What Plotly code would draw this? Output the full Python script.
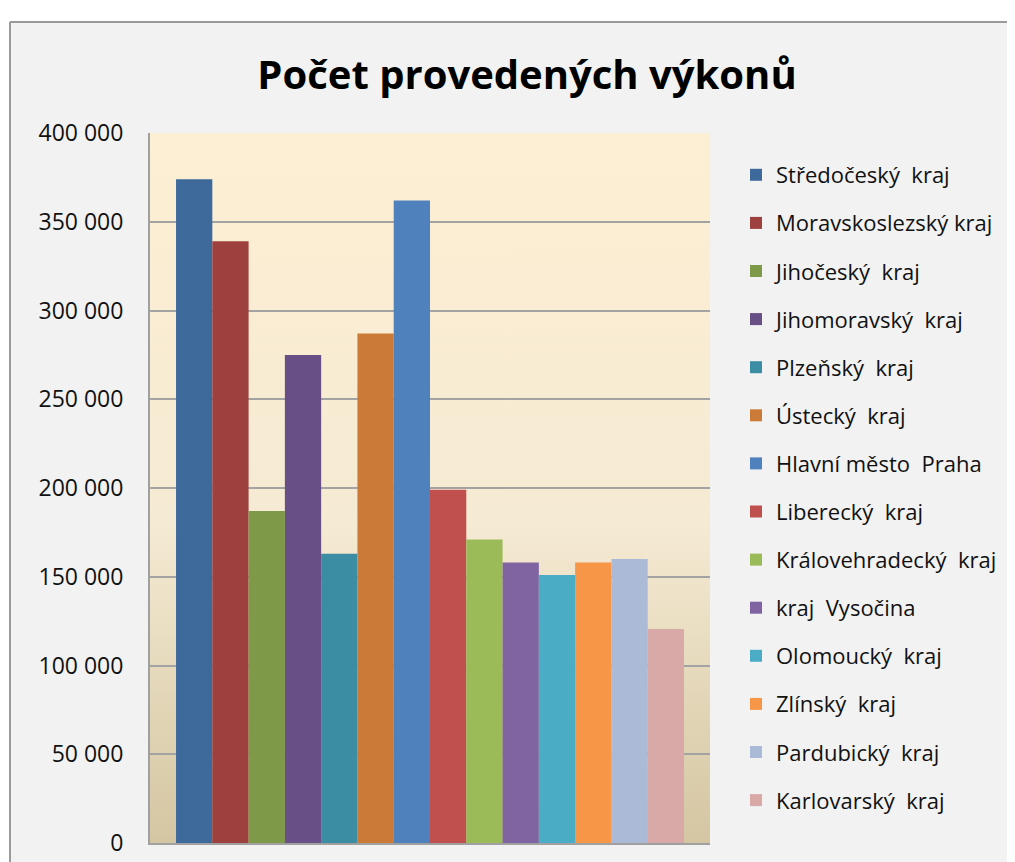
import base64
import plotly.graph_objects as go

# data
regions = ["Středočeský\u00a0 kraj", "Moravskoslezský kraj", "Jihočeský\u00a0 kraj",
           "Jihomoravský\u00a0 kraj", "Plzeňský\u00a0 kraj", "Ústecký\u00a0 kraj",
           "Hlavní město\u00a0 Praha", "Liberecký\u00a0 kraj", "Královehradecký\u00a0 kraj",
           "kraj\u00a0 Vysočina", "Olomoucký\u00a0 kraj", "Zlínský\u00a0 kraj",
           "Pardubický\u00a0 kraj", "Karlovarský\u00a0 kraj"]
counts = [374000, 339000, 187000, 275000, 163000, 287000, 362000,
          199000, 171000, 158000, 151000, 158000, 160000, 120500]
colors = ["#3E699B", "#9E403D", "#7E9A48", "#684F85", "#3A8DA3", "#CC7A37", "#4F81BD",
          "#C0504D", "#9BBB59", "#8064A2", "#4BACC6", "#F79646", "#AABAD7", "#D9A9A8"]
y_ticks = [0, 50000, 100000, 150000, 200000, 250000, 300000, 350000, 400000]

# page body has an 8px margin, so everything is laid out 8px up/left
OFF = 8
W, H = 1015 - OFF, 862 - OFF
L, T = 150 - OFF, 133 - OFF
pw, ph = 560, 710
R, B = W - L - pw, H - T - ph


def px_x(sx):
    # screen x pixel -> paper x
    return (sx - OFF - L) / pw


def px_y(sy):
    # screen y pixel -> paper y
    return 1 - (sy - OFF - T) / ph


fig = go.Figure()
for name, val, col in zip(regions, counts, colors):
    fig.add_trace(go.Bar(x=[""], y=[val], name=name, marker_color=col,
                         marker_line_width=0, legendgroup=name))

# gradient fill of the plot area, like the Excel original
svg = ('<svg xmlns="http://www.w3.org/2000/svg" width="10" height="100" viewBox="0 0 10 100" '
       'preserveAspectRatio="none"><defs><linearGradient id="g" x1="0" y1="0" x2="0" y2="1">'
       '<stop offset="0" stop-color="#FDEFD3"/><stop offset="0.55" stop-color="#F5EAD3"/>'
       '<stop offset="1" stop-color="#D4C6A2"/></linearGradient></defs>'
       '<rect width="10" height="100" fill="url(#g)"/></svg>')
bg_uri = "data:image/svg+xml;base64," + base64.b64encode(svg.encode()).decode()

font = "Open Sans, Noto Sans, sans-serif"

fig.update_layout(
    width=W, height=H,
    margin=dict(l=L, r=R, t=T, b=B, autoexpand=False),
    paper_bgcolor="#F2F2F2", plot_bgcolor="#F5EAD3",
    separators=", ",
    barmode="group", bargap=0.093, bargroupgap=0,
    font=dict(family=font, color="#111111", size=22),
    title=dict(text="<b>Počet provedených výkonů</b>", x=px_x(527), xref="paper",
               xanchor="center", y=1 - (75 - OFF) / H, yanchor="middle",
               font=dict(size=40, family=font, color="black")),
    showlegend=True,
    legend=dict(x=px_x(736), xanchor="left", y=px_y(154), yanchor="top",
                font=dict(size=22, family=font), tracegroupgap=16.5,
                bgcolor="rgba(0,0,0,0)", itemclick=False),
    images=[dict(source=bg_uri, xref="paper", yref="paper", x=0, y=1, sizex=1, sizey=1,
                 xanchor="left", yanchor="top", sizing="stretch", layer="below")],
    shapes=[
        # white strip above and left of the chart frame
        dict(type="rect", xref="paper", yref="paper", layer="below",
             x0=px_x(-50), x1=px_x(1100), y0=px_y(22), y1=px_y(-50),
             fillcolor="white", line_width=0),
        dict(type="rect", xref="paper", yref="paper", layer="below",
             x0=px_x(-50), x1=px_x(10), y0=px_y(900), y1=px_y(-50),
             fillcolor="white", line_width=0),
        dict(type="line", xref="paper", yref="paper", layer="below",
             x0=px_x(10), x1=px_x(1100), y0=px_y(22), y1=px_y(22),
             line=dict(color="#9A9A9A", width=2)),
        dict(type="line", xref="paper", yref="paper", layer="below",
             x0=px_x(10), x1=px_x(10), y0=px_y(22), y1=px_y(900),
             line=dict(color="#9A9A9A", width=2)),
    ],
)
fig.update_xaxes(showticklabels=False, showgrid=False, showline=True, linecolor="#A0A0A0",
                 linewidth=2, ticks="", zeroline=False)
fig.update_yaxes(range=[0, 400000], tickvals=y_ticks, tickformat=",d",
                 showgrid=True, gridcolor="#A3A3A3", gridwidth=2,
                 showline=True, linecolor="#A0A0A0", linewidth=2, zeroline=False,
                 ticks="", ticklabelstandoff=20, tickfont=dict(size=23, family=font))

fig.write_html("out.html")
